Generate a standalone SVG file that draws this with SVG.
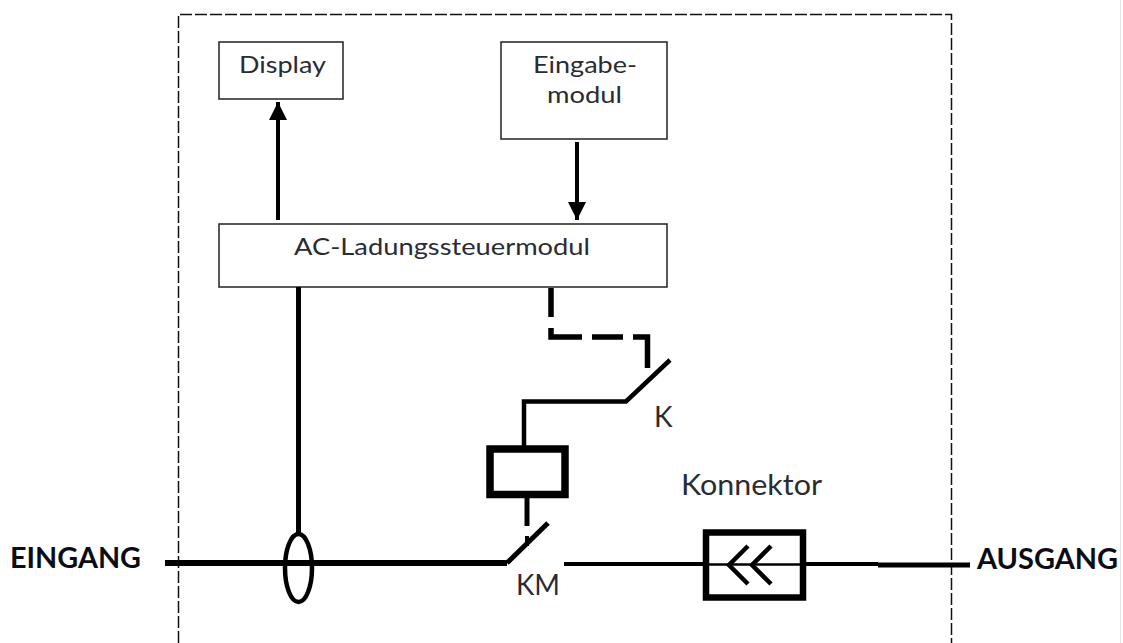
<svg xmlns="http://www.w3.org/2000/svg" width="1123" height="643" viewBox="0 0 1123 643">
<style>
text{font-family:"Lato","Open Sans","Liberation Sans",sans-serif;fill:#2b2b33}
.lab{font-size:24px}
.big{font-size:28px}
.bold{font-size:28px;font-weight:700;fill:#0c0c14}
.box{fill:#fff;stroke:#222;stroke-width:1.5}
.w{fill:none;stroke:#000;stroke-linecap:butt;stroke-linejoin:miter}
</style>
<defs>
<marker id="arrow" markerUnits="userSpaceOnUse" markerWidth="20" markerHeight="18" refX="18" refY="9" orient="auto">
<path d="M0 0L18 9L0 18Z" fill="#000"/>
</marker>
</defs>
<rect width="1123" height="643" fill="#fff"/>
<line x1="1120.5" y1="0" x2="1120.5" y2="643" stroke="#e4e4e4" stroke-width="1"/>
<path id="boundary" d="M178.5 643V14.5H951.5V643" fill="none" stroke="#111" stroke-width="1.5" stroke-dasharray="12 3"/>

<g id="display"><rect class="box" x="219" y="42" width="124" height="57"/><text class="lab" x="239" y="73" textLength="87" lengthAdjust="spacingAndGlyphs">Display</text></g>
<g id="eingabemodul"><rect class="box" x="501" y="42" width="166" height="97"/><text class="lab" x="533" y="73" textLength="104" lengthAdjust="spacingAndGlyphs">Eingabe-</text><text class="lab" x="547" y="103" textLength="75" lengthAdjust="spacingAndGlyphs">modul</text></g>
<g id="steuermodul"><rect class="box" x="219" y="224" width="448" height="63"/><text class="lab" x="294" y="255" textLength="296" lengthAdjust="spacingAndGlyphs">AC-Ladungssteuermodul</text></g>

<g id="connectors">
<line class="w" x1="278" y1="220" x2="278" y2="102" stroke-width="4" marker-end="url(#arrow)"/>
<line class="w" x1="577" y1="142" x2="577" y2="220" stroke-width="4" marker-end="url(#arrow)"/>
<line class="w" x1="298.500" y1="287" x2="298.500" y2="534" stroke-width="5"/>
<line class="w" x1="165" y1="563" x2="507" y2="563" stroke-width="6"/>
<path class="w" d="M551 288V317M551 328V337H582M592 337H623M633 337H647.500V368" stroke-width="5.500"/>
<path class="w" d="M524 446V401.500H626L670 360" stroke-width="4.500"/>
<line class="w" x1="527" y1="498" x2="527" y2="526" stroke-width="5"/>
<line class="w" x1="527" y1="536" x2="527" y2="546" stroke-width="4"/>
<path class="w" d="M507 563L548 523" stroke-width="5"/>
<line class="w" x1="564" y1="564" x2="705" y2="564" stroke-width="4"/>
<line class="w" x1="805" y1="564" x2="878" y2="564" stroke-width="4"/>
<line class="w" x1="878" y1="565" x2="970" y2="565" stroke-width="5"/>
</g>

<g id="stromwandler"><ellipse class="w" cx="298.500" cy="568" rx="13.500" ry="34" stroke-width="4.500"/></g>
<g id="spule"><rect class="w" x="490" y="449" width="75" height="45.500" stroke-width="7.500"/></g>
<g id="konnektor-symbol">
<rect class="w" x="706" y="532.500" width="97" height="65" stroke-width="6.500"/>
<line class="w" x1="705" y1="564.500" x2="805" y2="564.500" stroke="#333" stroke-width="2.500"/>
<path class="w" d="M748 546L729 565L748 584M771 546L752 565L771 584" stroke-width="4.500"/>
</g>

<g id="labels">
<text class="big" x="654" y="427">K</text>
<text class="big" x="516" y="595" textLength="44" lengthAdjust="spacingAndGlyphs">KM</text>
<text class="big" x="681" y="495" textLength="141" lengthAdjust="spacingAndGlyphs">Konnektor</text>
<text class="bold" x="10" y="568" textLength="131" lengthAdjust="spacingAndGlyphs">EINGANG</text>
<text class="bold" x="977" y="569" textLength="141" lengthAdjust="spacingAndGlyphs">AUSGANG</text>
</g>
</svg>
